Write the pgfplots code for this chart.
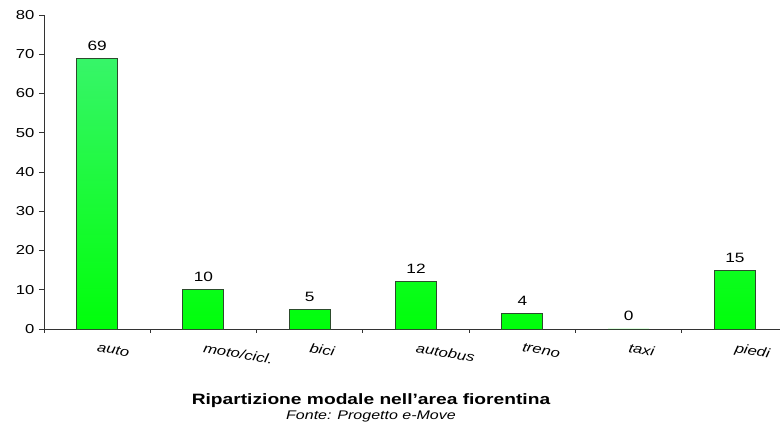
\documentclass[border=0pt]{standalone}
\usepackage{fontspec}
\setmainfont{Liberation Sans}[FakeStretch=1.28]
\usepackage{pgfplots}
\pgfplotsset{compat=1.18}

\definecolor{bartop}{RGB}{55,245,105}
\definecolor{barbottom}{RGB}{0,255,10}
\definecolor{baredge}{RGB}{45,75,45}

\begin{document}
\begin{tikzpicture}[x=1pt,y=1pt]
\useasboundingbox (0,0) rectangle (780,430);
\begin{axis}[
  at={(44pt,101pt)}, anchor=south west,
  scale only axis, width=736pt, height=314pt,
  xmin=-0.5, xmax=6.424, ymin=0, ymax=80,
  axis x line*=bottom, axis y line*=left,
  axis line style={black!80, line width=0.8pt},
  ytick={0,10,...,80},
  xtick={0,...,6},
  xticklabels={auto,moto/cicl.,bici,autobus,treno,taxi,piedi},
  minor xtick={-0.5,0.5,...,5.5},
  major x tick style={draw=none},
  tick align=outside,
  major tick length=5pt, minor tick length=4pt,
  tick style={black!80, line width=0.8pt},
  /pgf/number format/assume math mode=true,
  yticklabel style={font=\fontsize{13}{15}\selectfont, xshift=-1pt},
  xticklabel style={font=\fontsize{13}{15}\selectfont\itshape,
    rotate=-10, anchor=north west, yshift=-5pt, xshift=-1pt},
  nodes near coords,
  nodes near coords style={font=\fontsize{13.5}{15}\selectfont,
    anchor=base, inner sep=0pt, yshift=8pt},
  clip=false,
]
\addplot[ybar, bar width=41pt, draw=baredge, line width=0.9pt,
  top color=bartop, bottom color=barbottom]
  coordinates {(0,69) (1,10) (2,5) (3,12) (4,4) (5,0) (6,15)};
\end{axis}
\node[anchor=base, font=\fontsize{15}{17}\selectfont\bfseries] at (371,25)
  {Ripartizione modale nell’area fiorentina};
\node[anchor=base, font=\fontsize{12.5}{14}\selectfont\itshape] at (371,10)
  {Fonte: Progetto e-Move};
\end{tikzpicture}
\end{document}
